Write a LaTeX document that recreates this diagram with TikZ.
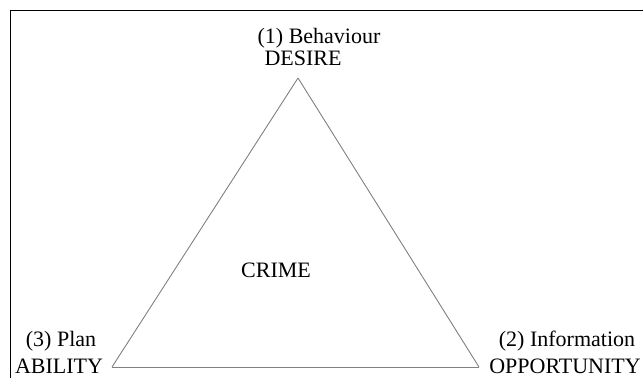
\documentclass[tikz,border=0pt]{standalone}
\usepackage{fontspec}
\setmainfont{Liberation Serif}
\usepackage{tikz}

\begin{document}
\begin{tikzpicture}[x=1pt,y=-1pt,
    lbl/.style={anchor=base, inner sep=0pt, font=\fontsize{22}{26}\selectfont}]

    \useasboundingbox (0,0) rectangle (643,378);

    % frame (cut at the right and bottom)
    \draw[line width=1pt] (10.5,378) -- (10.5,10.5) -- (643,10.5);

    \coordinate (desirept) at (298,78);
    \coordinate (abilitypt) at (112,367);
    \coordinate (opportpt) at (479,367);

    \node[lbl] (behaviour) at (319,43) {(1) Behaviour};
    \node[lbl] (desire) at (303,65) {DESIRE};

    \node[lbl] (plan) at (61,346) {(3) Plan};
    \node[lbl] (ability) at (59,373) {ABILITY};

    \node[lbl] (information) at (567,346) {(2) Information};
    \node[lbl] (opportunity) at (565,373) {OPPORTUNITY};

    \node[lbl] (crime) at (276,277) {CRIME};

    \path[draw=gray, line width=0.9pt]
    (desirept) edge [] (opportpt)
    (opportpt) edge [] (abilitypt)
    (abilitypt) edge [] (desirept) ;

\end{tikzpicture}
\end{document}
